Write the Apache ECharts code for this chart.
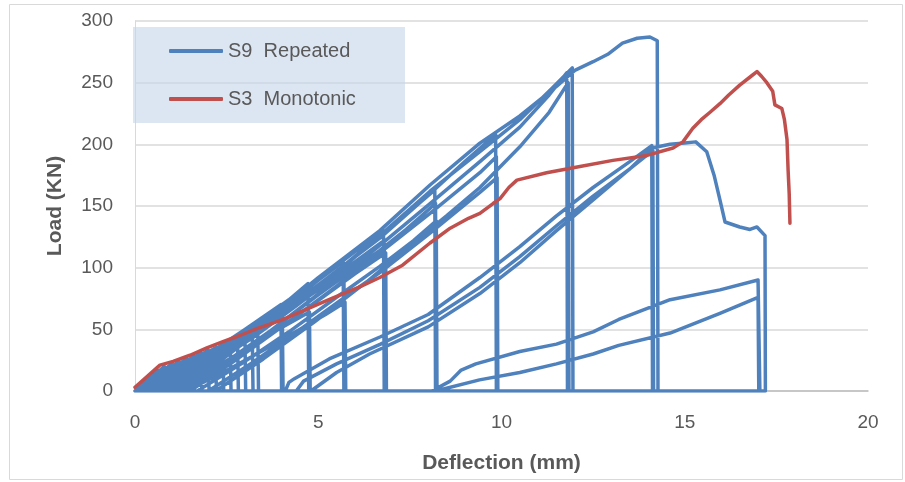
<!DOCTYPE html>
<html>
<head>
    <meta charset="utf-8">
    <title>Load - Deflection</title>
    <script src="https://cdn.jsdelivr.net/npm/echarts@6.0.0/dist/echarts.min.js"></script>
</head>
<body style="margin:0;background:#fff;">
    <div id="main" style="width: 905px;height:482px;"></div>
    <script type="text/javascript">
    var seriesNames = ['S9  Repeated', 'S3  Monotonic'];
    var xTicks = [0, 5, 10, 15, 20];
    var yTicks = [0, 50, 100, 150, 200, 250, 300];

    // S9: loading cycles, each one ends with its unloading point [x, 0]
    var s9Small = [
        [[0, 0], [0.4, 12], [0.42, 0]],
        [[0, 0], [0.6, 17], [0.62, 0]],
        [[0.05, 0], [0.8, 20], [0.82, 0]],
        [[0.05, 0], [1.0, 22], [1.02, 0]],
        [[0.1, 0], [1.2, 24], [1.22, 0]],
        [[0.1, 0], [1.4, 26], [1.42, 0]],
        [[0.15, 0], [1.6, 28], [1.62, 0]],
        [[0.15, 0], [1.8, 31], [1.82, 0]],
        [[0.2, 0], [2.0, 33], [2.02, 0]],
        [[0.2, 0], [2.2, 35], [2.22, 0]],
        [[0.25, 0], [2.4, 37], [2.42, 0]],
        [[0.25, 0], [2.6, 39], [2.62, 0]],
        [[0.3, 0], [2.8, 41], [2.82, 0]],
        [[0.3, 0], [3.0, 44], [3.02, 0]],
        [[0.35, 0], [3.2, 46], [3.22, 0]],
        [[0.4, 0], [3.35, 49], [3.37, 0]]
    ];
    var s9PrePeak = [
        [[0.3, 0], [1, 12], [2, 30], [3, 50], [3.98, 70], [4.0, 0]],
        [[0.6, 0], [1.4, 12], [2.4, 30], [3.3, 47], [4.02, 62], [4.04, 0]],
        [[0.4, 0], [1.2, 13], [2.2, 32], [3.3, 55], [4.2, 74], [4.72, 87], [4.74, 0]],
        [[1.0, 0], [1.8, 12], [2.8, 30], [3.8, 48], [4.76, 64], [4.78, 0]],
        [[0.5, 0], [1.4, 15], [2.5, 37], [3.6, 60], [4.6, 81], [5.68, 105], [5.7, 0]],
        [[0.8, 0], [1.8, 17], [2.9, 39], [4, 62], [5, 82], [5.7, 96], [5.72, 0]],
        [[1.4, 0], [2.4, 15], [3.5, 33], [4.5, 50], [5.2, 62], [5.73, 72], [5.75, 0]],
        [[0.6, 0], [1.6, 17], [2.8, 41], [4, 66], [5.3, 97], [6.0, 113], [6.78, 130], [6.8, 0]],
        [[0.9, 0], [2, 20], [3.2, 43], [4.4, 69], [5.6, 96], [6.8, 122], [6.82, 0]],
        [[1.3, 0], [2.4, 20], [3.6, 44], [4.8, 69], [6, 95], [6.84, 112], [6.86, 0]],
        [[0.8, 0], [2, 22], [3.3, 48], [4.6, 76], [5.9, 106], [7, 133], [8.18, 163], [8.2, 0]],
        [[1.2, 0], [2.4, 22], [3.7, 49], [5, 78], [6.68, 114], [7.4, 131], [8.2, 152], [8.22, 0]],
        [[1.7, 0], [2.9, 22], [4.2, 48], [5.5, 76], [6.68, 101], [7.6, 122], [8.22, 138], [8.24, 0]],
        [[1.0, 0], [2.2, 24], [3.6, 54], [5, 86], [6.68, 124], [8.05, 160], [9.0, 186], [9.84, 208], [9.86, 0]],
        [[1.5, 0], [2.7, 24], [4.1, 54], [5.5, 85], [6.68, 112], [8.05, 144], [9.41, 177], [9.86, 190], [9.88, 0]],
        [[2.0, 0], [3.2, 23], [4.6, 52], [6, 82], [6.68, 96], [8.05, 128], [9.41, 161], [9.88, 173], [9.9, 0]],
        [[1.4, 0], [2.7, 26], [4.1, 58], [5.5, 90], [6.68, 118], [8.05, 152], [9.41, 186], [10.5, 214], [11.3, 240], [11.78, 258], [11.8, 0]],
        [[2.2, 0], [3.5, 26], [4.9, 56], [6.3, 88], [7.5, 118], [8.5, 142], [9.41, 165], [10.5, 198], [11.3, 226], [11.82, 250], [11.84, 0]],
        [[1.2, 0], [2.4, 26], [3.9, 60], [5.3, 92], [6.68, 126], [8.05, 162], [9.41, 194], [10.5, 220], [11.4, 246], [11.93, 262], [11.95, 0]],
        [[1.0, 0], [2.2, 26], [3.6, 58], [5, 92], [6.68, 130], [8.05, 167], [9.41, 201], [10.5, 223], [11.5, 247], [12.0, 260], [12.5, 267], [12.9, 273], [13.3, 282], [13.7, 286], [14.05, 287], [14.25, 284], [14.27, 0]]
    ];
    var s9PostPeak = [
        [[4.1, 0], [4.2, 7], [4.35, 10], [5.3, 26], [6.7, 44], [8, 62], [9.41, 92], [10.5, 117], [11.5, 142], [12.5, 165], [13.5, 186], [14.1, 199], [14.12, 0]],
        [[4.4, 0], [4.6, 8], [5.5, 22], [6.7, 38], [8, 57], [9.41, 84], [10.5, 109], [11.5, 134], [12.5, 158], [13.5, 180], [14.13, 195], [14.15, 0]],
        [[4.8, 0], [5.5, 15], [6.4, 30], [8, 52], [9.41, 79], [10.5, 104], [11.5, 130], [12.5, 155], [13.5, 180], [14.1, 197], [14.6, 200], [15.0, 201], [15.3, 202], [15.6, 194], [15.8, 175], [15.96, 155], [16.1, 137], [16.5, 133], [16.78, 131], [16.97, 133], [17.19, 126], [17.2, 0]],
        [[8.1, 0], [8.6, 8], [8.9, 17], [9.3, 22], [10.5, 32], [11.5, 38], [12.5, 48], [13.2, 58], [14.6, 74], [15.96, 82], [17.0, 90], [17.05, 0]],
        [[8.2, 0], [9.4, 9], [10.5, 15], [11.5, 22], [12.5, 30], [13.2, 37], [14.6, 47], [15.96, 63], [17.0, 76], [17.02, 0]]
    ];

    // S3 monotonic
    var s3Data = [
        [0, 3], [0.68, 21], [1.04, 24], [1.5, 29], [1.96, 35], [2.4, 40], [2.86, 45], [3.36, 51],
        [3.96, 57], [4.5, 64], [5.05, 71], [5.6, 78], [6.1, 84], [6.68, 92], [7.3, 102], [8.05, 120],
        [8.6, 132], [9.1, 140], [9.41, 144], [9.77, 152], [9.96, 156], [10.2, 165], [10.42, 171],
        [11.23, 177], [12.14, 182], [13.04, 187], [13.97, 191], [14.68, 197], [14.95, 202], [15.22, 213],
        [15.45, 220], [15.69, 226], [15.96, 233], [16.2, 240], [16.5, 248], [16.8, 255], [16.97, 259],
        [17.1, 255], [17.24, 250], [17.4, 243], [17.46, 232], [17.65, 229], [17.72, 220], [17.79, 204],
        [17.82, 179], [17.85, 160], [17.87, 136]
    ];

    var s9Data = [];
    s9Small.concat(s9PrePeak, s9PostPeak).forEach(function (cycle) {
        cycle.forEach(function (p) { s9Data.push(p); });
    });

    var labelColor = '#595959';
    var font = 'Liberation Sans';

    var myChart = echarts.init(document.getElementById('main'));
    var option = {
        animation: false,
        textStyle: { fontFamily: font },
        grid: { left: 135, right: 37, top: 21, bottom: 91 },
        graphic: [
            {
                type: 'rect', z: 3, silent: true,
                shape: { x: 133, y: 27, width: 272, height: 96 },
                style: { fill: 'rgba(196,212,234,0.6)' }
            },
            {
                type: 'rect', z: 1, silent: true,
                shape: { x: 9.5, y: 4.5, width: 893, height: 475 },
                style: { fill: null, stroke: '#d9d9d9', lineWidth: 1 }
            }
        ],
        legend: {
            data: seriesNames,
            orient: 'vertical',
            left: 133, top: 27,
            padding: [14, 20, 14, 36],
            itemGap: 28,
            itemWidth: 54, itemHeight: 4,
            icon: 'roundRect',
            z: 5,
            textStyle: { fontFamily: font, fontSize: 20, lineHeight: 20, color: labelColor }
        },
        xAxis: {
            type: 'value', min: xTicks[0], max: xTicks[xTicks.length - 1], interval: 5,
            name: 'Deflection (mm)', nameLocation: 'middle', nameGap: 62,
            nameTextStyle: { fontFamily: font, fontSize: 21, fontWeight: 'bold', color: labelColor },
            axisLine: { lineStyle: { color: '#bfbfbf', width: 1.5 } },
            axisTick: { show: false },
            splitLine: { show: false },
            axisLabel: { fontSize: 19, color: labelColor, margin: 22 }
        },
        yAxis: {
            type: 'value', min: yTicks[0], max: yTicks[yTicks.length - 1], interval: 50,
            name: 'Load (KN)', nameLocation: 'middle', nameGap: 69,
            nameTextStyle: { fontFamily: font, fontSize: 21, fontWeight: 'bold', color: labelColor },
            axisLine: { show: true, lineStyle: { color: '#d9d9d9' } },
            axisTick: { show: false },
            splitLine: { lineStyle: { color: '#d9d9d9', width: 1.5 } },
            axisLabel: { fontSize: 19, color: labelColor, margin: 22 }
        },
        series: [
            {
                name: seriesNames[0], type: 'line', data: s9Data,
                symbol: 'none', z: 2,
                itemStyle: { color: '#4f81bd' },
                lineStyle: { color: '#4f81bd', width: 3.5, cap: 'round', join: 'round' }
            },
            {
                name: seriesNames[1], type: 'line', data: s3Data,
                symbol: 'none', z: 2,
                itemStyle: { color: '#c0504d' },
                lineStyle: { color: '#c0504d', width: 3.5, cap: 'round', join: 'round' }
            }
        ]
    };
    myChart.setOption(option);
    </script>
</body>
</html>
